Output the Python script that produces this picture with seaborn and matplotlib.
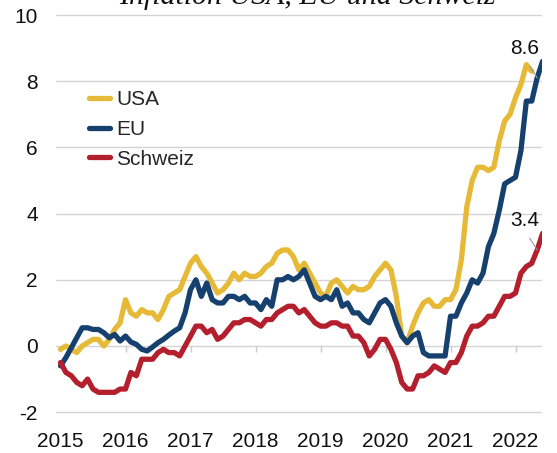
import numpy as np
import pandas as pd
import matplotlib
matplotlib.use("Agg")
import matplotlib.pyplot as plt
import seaborn as sns

# ---- data (monthly YoY inflation, %) ----
start_year = 2015
usa = [-0.1, 0.0, -0.1, -0.2, 0.0, 0.1, 0.2, 0.2, 0.0, 0.2, 0.5, 0.7,
       1.4, 1.0, 0.9, 1.1, 1.0, 1.0, 0.8, 1.1, 1.5, 1.6, 1.7, 2.1,
       2.5, 2.7, 2.4, 2.2, 1.9, 1.6, 1.7, 1.9, 2.2, 2.0, 2.2, 2.1,
       2.1, 2.2, 2.4, 2.5, 2.8, 2.9, 2.9, 2.7, 2.3, 2.5, 2.2, 1.9,
       1.6, 1.5, 1.9, 2.0, 1.8, 1.6, 1.8, 1.7, 1.7, 1.8, 2.1, 2.3,
       2.5, 2.3, 1.5, 0.3, 0.1, 0.6, 1.0, 1.3, 1.4, 1.2, 1.2, 1.4,
       1.4, 1.7, 2.6, 4.2, 5.0, 5.4, 5.4, 5.3, 5.4, 6.2, 6.8, 7.0,
       7.5, 7.9, 8.5, 8.3]
eu = [-0.6, -0.35, -0.05, 0.25, 0.55, 0.55, 0.5, 0.5, 0.4, 0.25, 0.35, 0.15,
      0.3, 0.12, 0.05, -0.1, -0.15, -0.03, 0.1, 0.2, 0.33, 0.45, 0.55, 1.0,
      1.7, 2.0, 1.5, 1.9, 1.4, 1.3, 1.3, 1.5, 1.5, 1.4, 1.5, 1.3,
      1.3, 1.1, 1.4, 1.2, 2.0, 2.0, 2.1, 2.0, 2.1, 2.3, 1.9, 1.5,
      1.4, 1.5, 1.4, 1.7, 1.2, 1.3, 1.0, 1.0, 0.8, 0.7, 1.0, 1.3,
      1.4, 1.2, 0.7, 0.3, 0.1, 0.3, 0.4, -0.2, -0.3, -0.3, -0.3, -0.3,
      0.9, 0.9, 1.3, 1.6, 2.0, 1.9, 2.2, 3.0, 3.4, 4.1, 4.9, 5.0,
      5.1, 5.9, 7.4, 7.4, 8.1, 8.6]
schweiz = [-0.5, -0.8, -0.9, -1.1, -1.2, -1.0, -1.3, -1.4, -1.4, -1.4, -1.4, -1.3,
           -1.3, -0.8, -0.9, -0.4, -0.4, -0.4, -0.2, -0.1, -0.2, -0.2, -0.3, 0.0,
           0.3, 0.6, 0.6, 0.4, 0.5, 0.2, 0.3, 0.5, 0.7, 0.7, 0.8, 0.8,
           0.7, 0.6, 0.8, 0.8, 1.0, 1.1, 1.2, 1.2, 1.0, 1.1, 0.9, 0.7,
           0.6, 0.6, 0.7, 0.7, 0.6, 0.6, 0.3, 0.3, 0.1, -0.3, -0.1, 0.2,
           0.2, -0.1, -0.5, -1.1, -1.3, -1.3, -0.9, -0.9, -0.8, -0.6, -0.7, -0.8,
           -0.5, -0.5, -0.2, 0.3, 0.6, 0.6, 0.7, 0.9, 0.9, 1.2, 1.5, 1.5,
           1.6, 2.2, 2.4, 2.5, 2.9, 3.4]
series_names = ["USA", "EU", "Schweiz"]
colors = ["#E6B937", "#16416E", "#B41F2E"]
year_ticks = [2015, 2016, 2017, 2018, 2019, 2020, 2021, 2022]
y_ticks = [-2, 0, 2, 4, 6, 8, 10]
title = "Inflation USA, EU und Schweiz"

frames = []
for name, vals in zip(series_names, [usa, eu, schweiz]):
    t = start_year + np.arange(len(vals)) / 12.0
    frames.append(pd.DataFrame({"t": t, "v": vals, "Land": name}))
df = pd.concat(frames, ignore_index=True)

# ---- figure ----
sns.set_style("white")
plt.rcParams["font.family"] = ["Liberation Sans", "DejaVu Sans"]
plt.rcParams["axes.unicode_minus"] = False

W, H = 557, 453
LW = 3.8
fig = plt.figure(figsize=(W / 100, H / 100), dpi=100)
ax_l, ax_r, ax_t, ax_b = 56, 542, 11.7, 415.5
ax = fig.add_axes([ax_l / W, 1 - ax_b / H, (ax_r - ax_l) / W, (ax_b - ax_t) / H])

sns.lineplot(data=df, x="t", y="v", hue="Land", palette=dict(zip(series_names, colors)),
             linewidth=LW, ax=ax, legend=False, sort=True)
for ln in ax.get_lines():
    ln.set_solid_capstyle("round")
    ln.set_solid_joinstyle("round")

x_left = start_year - (60.5 - ax_l) / 65.0
x_right = start_year + (ax_r - 60.5) / 65.0
ax.set_xlim(x_left, x_right)
ax.set_ylim(-2.1, 10.1)

ax.set_yticks(y_ticks)
ax.set_yticklabels([str(v) for v in y_ticks])
ax.set_xticks(year_ticks)
ax.set_xticklabels([str(y) for y in year_ticks])
ax.yaxis.grid(True, color="#d4d4d4", linewidth=1.0)
ax.xaxis.grid(False)
ax.set_axisbelow(True)
for s in ax.spines.values():
    s.set_visible(False)
ax.tick_params(axis="y", length=0, pad=13, labelsize=15, labelcolor="#111111")
ax.tick_params(axis="x", length=0, pad=12, labelsize=15, labelcolor="#111111")
ax.set_xlabel("")
ax.set_ylabel("")

# small year ticks on the zero line
ax.vlines(year_ticks, -0.18, 0, color="#c8c8c8", linewidth=1.0, zorder=1)

# legend
from matplotlib.lines import Line2D
handles = [Line2D([0], [0], color=c, lw=LW, solid_capstyle="round") for c in colors]
ax.legend(handles, series_names, loc="upper left",
          bbox_to_anchor=((89 - ax_l) / (ax_r - ax_l), 1 - (90 - ax_t) / (ax_b - ax_t)),
          frameon=False, fontsize=15, handlelength=1.0, handletextpad=0.3,
          labelspacing=0.52, borderpad=0, borderaxespad=0)

# end labels with leader lines
t_eu = start_year + (len(eu) - 1) / 12.0
t_ch = start_year + (len(schweiz) - 1) / 12.0
for tv, vals in [(t_eu, eu), (t_ch, schweiz)]:
    ax.annotate(f"{vals[-1]:.1f}", xy=(tv - 1 / 12.0, vals[-2]),
                xytext=(-9, 21), textcoords="offset points",
                ha="center", va="center", fontsize=15, color="#111111",
                arrowprops=dict(arrowstyle="-", color="#999999", lw=0.8,
                                relpos=(0.5, 0.0), shrinkA=4, shrinkB=0))

# title (cut off at the top, as in the reference)
fig.text(307 / W, 1 - 4 / H, title, ha="center", va="baseline",
         family=["Liberation Serif", "DejaVu Serif"], style="italic", fontsize=21.5,
         color="#111111")

fig.savefig("out.png", dpi=100)
